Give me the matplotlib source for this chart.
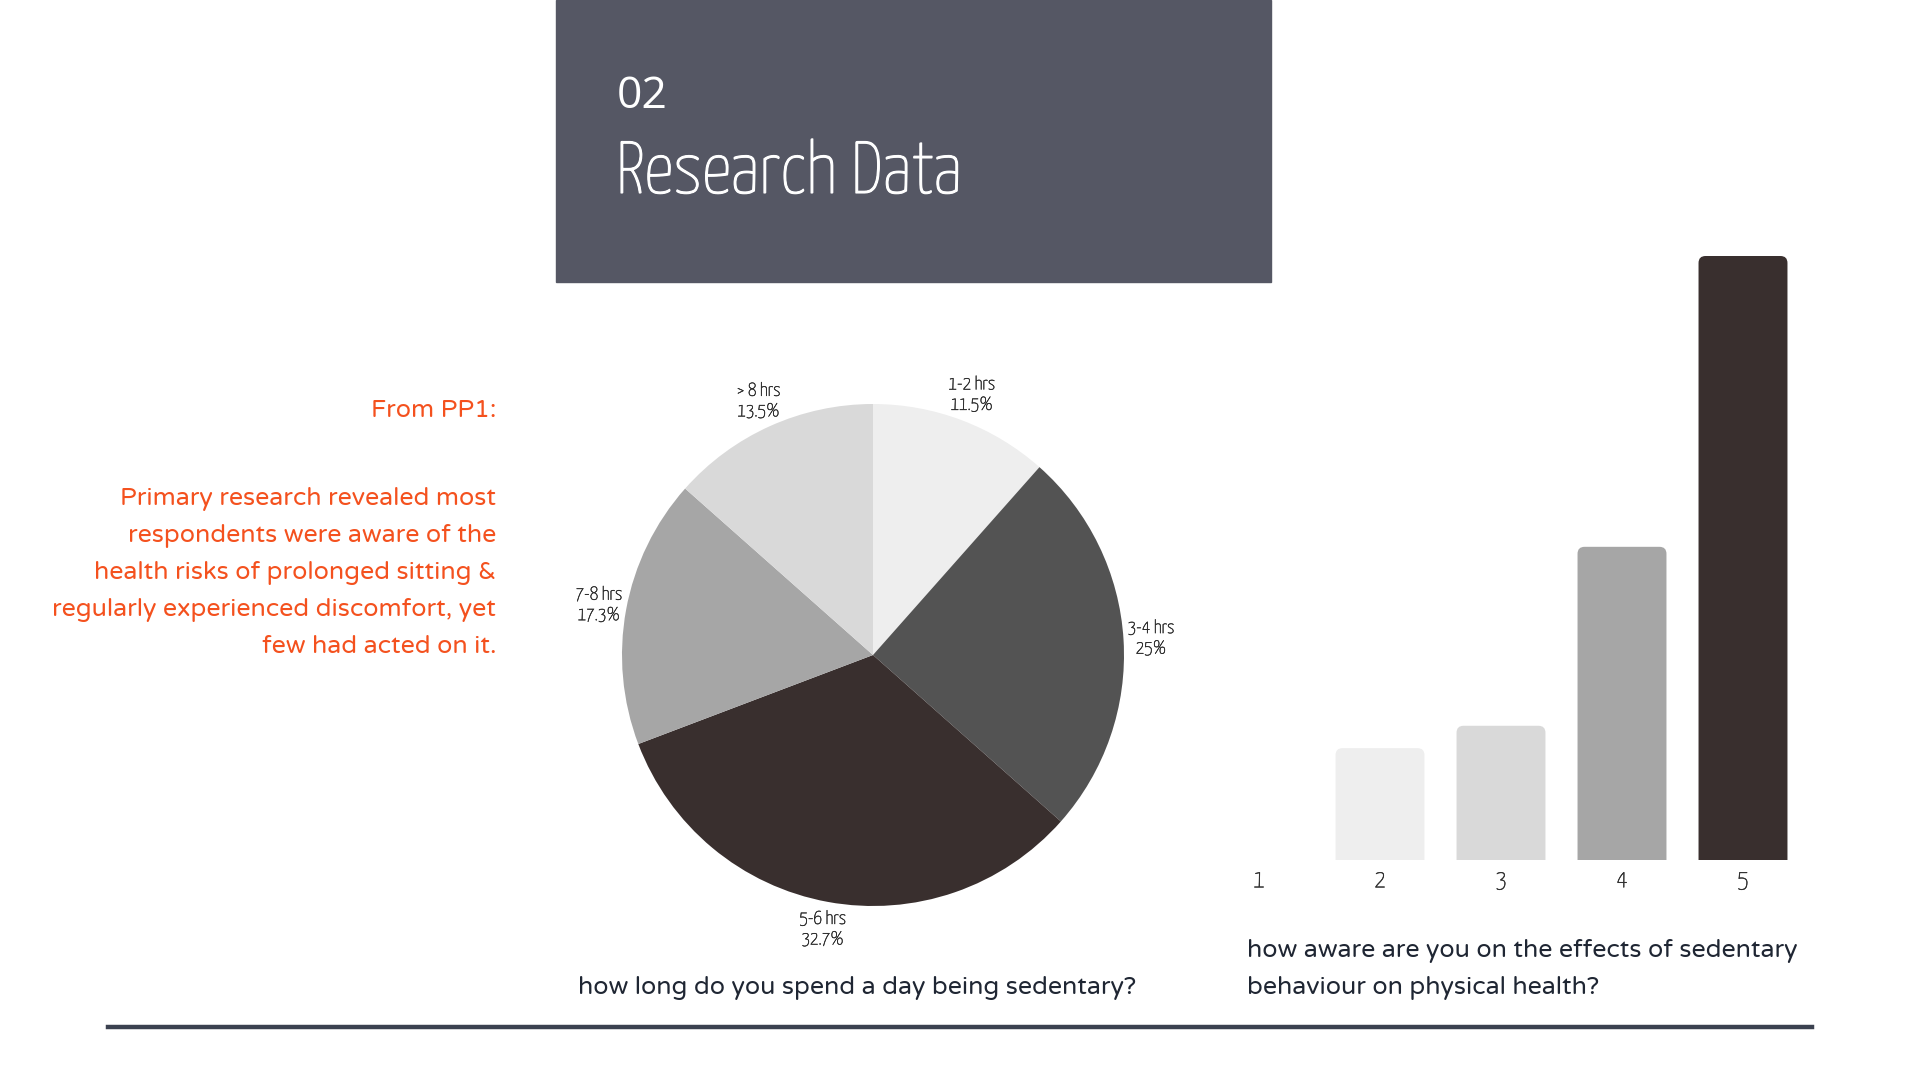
import matplotlib
matplotlib.use("Agg")
import matplotlib.pyplot as plt
import matplotlib.patheffects as pe
from matplotlib.patches import Rectangle, FancyBboxPatch
from matplotlib.lines import Line2D

# pie: how long do you spend a day being sedentary?
pie_labels = ["1-2 hrs", "3-4 hrs", "5-6 hrs", "7-8 hrs", "> 8 hrs"]
pie_counts = [6, 13, 17, 9, 7]
pie_pct = ["11.5%", "25%", "32.7%", "17.3%", "13.5%"]
pie_colors = ["#eeeeee", "#535353", "#392f2e", "#a6a6a6", "#d9d9d9"]

# bars: how aware are you on the effects ...
bar_cats = ["1", "2", "3", "4", "5"]
bar_counts = [0, 5, 6, 14, 27]
bar_colors = ["#eeeeee", "#eeeeee", "#d9d9d9", "#a6a6a6", "#392f2e"]

body_lines = [
    "Primary research revealed most",
    "respondents were aware of the",
    "health risks of prolonged sitting &",
    "regularly experienced discomfort, yet",
    "few had acted on it.",
]

W, H = 1920, 1080
narrow = ["Yanone Kaffeesatz", "DejaVu Sans"]
body = ["Varela Round", "Open Sans", "DejaVu Sans"]
orange = "#f4511e"
ink = "#1f2633"
label_ink = "#2e2e2e"
thicken = [pe.withStroke(linewidth=0.35, foreground=label_ink)]

fig = plt.figure(figsize=(19.2, 10.8), dpi=100)
fig.patch.set_facecolor("white")


def fx(px):
    return px / W


def fy(py):
    return 1 - py / H


# header box
fig.patches.append(Rectangle((fx(556), fy(282)), fx(1271) - fx(556), fy(0) - fy(282),
                             transform=fig.transFigure, color="#555764", zorder=0))
fig.text(fx(617), fy(97), "02", color="white", fontsize=32, family=["Open Sans", "DejaVu Sans"],
         va="center", ha="left")
fig.text(fx(616), fy(193), "Research Data", color="white", fontsize=53, family=narrow,
         va="baseline", ha="left",
         path_effects=[pe.withStroke(linewidth=0.8, foreground="white")])

# left side text
fig.text(fx(496), fy(411), "From PP1:", color=orange, fontsize=18, family=body,
         ha="right", va="center")
for i, line in enumerate(body_lines):
    fig.text(fx(496), fy(499 + 37 * i), line, color=orange, fontsize=18, family=body,
             ha="right", va="center")

# pie chart
r = 251
cx, cy = 873, 655
half = 1.25 * r
ax_pie = fig.add_axes([fx(cx - half), fy(cy + half), 2 * half / W, 2 * half / H])
wedges, texts = ax_pie.pie(
    pie_counts,
    labels=[f"{l}\n{p}" for l, p in zip(pie_labels, pie_pct)],
    colors=pie_colors,
    startangle=90,
    counterclock=False,
    labeldistance=1.11,
    wedgeprops=dict(linewidth=0),
    textprops=dict(family=narrow, fontsize=13.5, color=label_ink, linespacing=1.2),
)
for t in texts:
    t.set_horizontalalignment("center")
    t.set_verticalalignment("center")
    t.set_path_effects(thicken)
ax_pie.set_xlim(-1.25, 1.25)
ax_pie.set_ylim(-1.25, 1.25)
ax_pie.set_aspect("equal")
ax_pie.axis("off")

fig.text(fx(857), fy(988), "how long do you spend a day being sedentary?", color=ink,
         fontsize=18, family=body, ha="center", va="center")

# bar chart
x0, x1 = 1198.5, 1803.5
base, top = 860, 256
ax_bar = fig.add_axes([fx(x0), fy(base), (x1 - x0) / W, (base - top) / H])
xs = list(range(1, len(bar_cats) + 1))
bars = ax_bar.bar(xs, bar_counts, width=0.735, color=bar_colors)
ax_bar.set_xlim(0.5, 5.5)
ax_bar.set_ylim(0, max(bar_counts))

# rounded top corners: redraw each bar as a rounded box sunk below the baseline
px_x = (x1 - x0) / 5.0
px_y = (base - top) / max(bar_counts)
for b, c in zip(bars, bar_colors):
    if b.get_height() <= 0:
        continue
    b.set_visible(False)
    ax_bar.add_patch(FancyBboxPatch((b.get_x(), -1), b.get_width(), b.get_height() + 1,
                                    boxstyle="round,pad=0,rounding_size=%f" % (7 / px_x),
                                    mutation_aspect=px_x / px_y, color=c, linewidth=0))

ax_bar.set_xticks(xs)
ax_bar.set_xticklabels(bar_cats, family=narrow, fontsize=18, color=label_ink)
for t in ax_bar.get_xticklabels():
    t.set_path_effects(thicken)
ax_bar.tick_params(axis="x", length=0, pad=6)
ax_bar.set_yticks([])
for s in ax_bar.spines.values():
    s.set_visible(False)
ax_bar.patch.set_alpha(0)

fig.text(fx(1247), fy(951), "how aware are you on the effects of sedentary", color=ink,
         fontsize=18, family=body, ha="left", va="center")
fig.text(fx(1247), fy(988), "behaviour on physical health?", color=ink,
         fontsize=18, family=body, ha="left", va="center")

# bottom rule
fig.lines.append(Line2D([fx(108), fx(1812)], [fy(1027), fy(1027)], transform=fig.transFigure,
                        color="#3b4150", linewidth=3.2))

fig.savefig("out.png", dpi=100)
